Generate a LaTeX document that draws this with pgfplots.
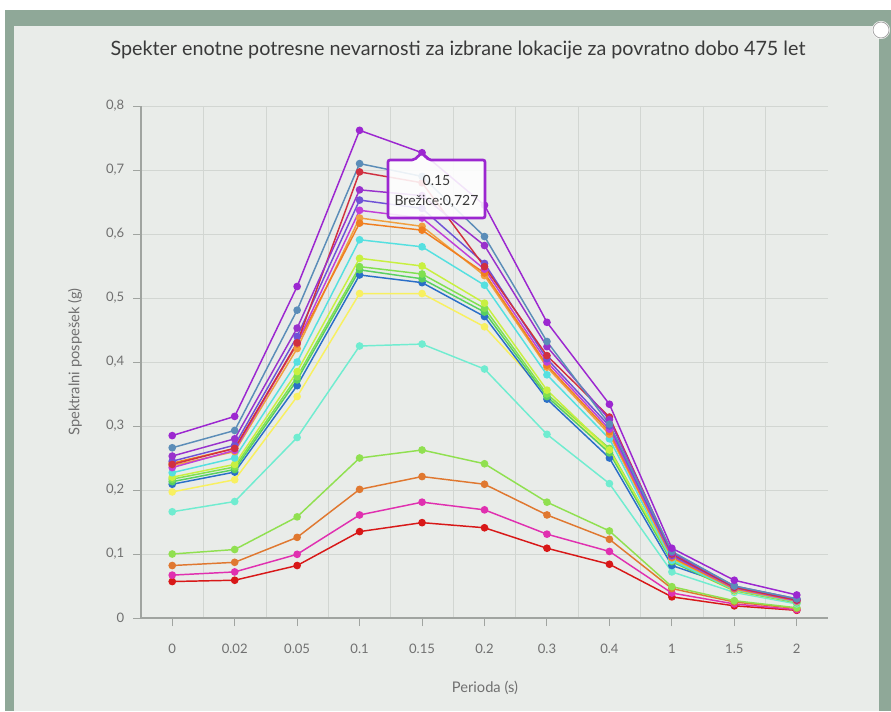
\documentclass[border=0pt]{standalone}
\usepackage{fontspec}
\setmainfont{Lato}
\usepackage{pgfplots}
\pgfplotsset{compat=1.18}
\definecolor{framegreen}{HTML}{8FA898}
\definecolor{panel}{HTML}{E9ECE9}
\definecolor{gridc}{HTML}{D2D6D2}
\definecolor{axisc}{HTML}{A0A4A0}
\definecolor{labc}{HTML}{707070}
\definecolor{titc}{HTML}{3A3A3A}
\definecolor{cbrez}{HTML}{9C27D0}
\definecolor{csteel}{HTML}{5B8DB8}
\definecolor{credup}{HTML}{D03040}
\definecolor{cpurp}{HTML}{9932CC}
\definecolor{cviol}{HTML}{6F52D6}
\definecolor{cmagp}{HTML}{C03FD8}
\definecolor{corng}{HTML}{F07F20}
\definecolor{corng2}{HTML}{F0A040}
\definecolor{ccyan}{HTML}{55E0E0}
\definecolor{cygreen}{HTML}{C8F040}
\definecolor{cgreen}{HTML}{80E050}
\definecolor{cgreen2}{HTML}{58D060}
\definecolor{cblue}{HTML}{2A6FC8}
\definecolor{cyellow}{HTML}{F8F060}
\definecolor{cturq}{HTML}{70ECD0}
\definecolor{clime}{HTML}{90E050}
\definecolor{corlow}{HTML}{E07830}
\definecolor{cmag}{HTML}{E030B0}
\definecolor{cred}{HTML}{D81818}
\begin{document}
\begin{tikzpicture}
\begin{scope}[x=0.75pt,y=0.75pt]
\fill[white] (0,0) rectangle (891,711);
\fill[framegreen] (5,0) rectangle (891,701);
\fill[panel] (14,0) rectangle (879,685);
\fill[white] (881,681) circle (9);
\draw[gray!70, line width=0.6pt] (881,681) circle (8);
\node[text=titc, font=\fontsize{14.8}{17}\selectfont] at (458,661) {Spekter enotne potresne nevarnosti za izbrane lokacije za povratno dobo 475 let};
\node[text=labc, rotate=90, font=\fontsize{11}{13}\selectfont] at (75,349) {Spektralni pospešek (g)};
\node[text=labc, font=\fontsize{11}{13}\selectfont] at (485,23) {Perioda (s)};
\end{scope}
\begin{axis}[
  at={(105.75pt,69.75pt)}, anchor=south west,
  width=515.25pt, height=384pt, scale only axis,
  xmin=-0.5, xmax=10.5, ymin=0, ymax=0.8,
  xtick={0,1,2,3,4,5,6,7,8,9,10},
  xticklabels={0,0.02,0.05,0.1,0.15,0.2,0.3,0.4,1,1.5,2},
  minor xtick={0.5,1.5,2.5,3.5,4.5,5.5,6.5,7.5,8.5,9.5},
  ytick={0,0.1,0.2,0.3,0.4,0.5,0.6,0.7,0.8},
  xmajorgrids=false, xminorgrids=true, ymajorgrids=true,
  grid style={color=gridc, line width=0.6pt},
  minor grid style={color=gridc, line width=0.6pt},
  axis x line*=bottom, axis y line*=left,
  axis line style={color=axisc, line width=0.8pt, -},
  tick align=outside, major tick length=6pt, minor tick length=0pt,
  tick style={color=axisc, line width=0.7pt},
  ticklabel style={font=\fontsize{9.8}{11}\selectfont, text=labc},
  xticklabel style={yshift=-10pt},
  /pgf/number format/assume math mode=true,
  yticklabel style={xshift=-3pt, /pgf/number format/.cd, use comma, fixed, precision=1},
  every axis plot/.append style={line width=1.1pt, mark=*, mark size=2.3pt},
]
\addplot[color=cred] coordinates {(0,0.057) (1,0.059) (2,0.082) (3,0.135) (4,0.149) (5,0.141) (6,0.109) (7,0.084) (8,0.033) (9,0.019) (10,0.012)};
\addplot[color=cmag] coordinates {(0,0.067) (1,0.072) (2,0.0995) (3,0.161) (4,0.181) (5,0.169) (6,0.131) (7,0.104) (8,0.039) (9,0.022) (10,0.013)};
\addplot[color=corlow] coordinates {(0,0.082) (1,0.087) (2,0.126) (3,0.201) (4,0.221) (5,0.209) (6,0.161) (7,0.123) (8,0.046) (9,0.025) (10,0.015)};
\addplot[color=clime] coordinates {(0,0.100) (1,0.107) (2,0.158) (3,0.250) (4,0.2625) (5,0.241) (6,0.181) (7,0.136) (8,0.049) (9,0.027) (10,0.016)};
\addplot[color=cturq] coordinates {(0,0.166) (1,0.182) (2,0.282) (3,0.425) (4,0.428) (5,0.389) (6,0.287) (7,0.210) (8,0.072) (9,0.040) (10,0.022)};
\addplot[color=cyellow] coordinates {(0,0.197) (1,0.216) (2,0.346) (3,0.507) (4,0.507) (5,0.455) (6,0.350) (7,0.260) (8,0.088) (9,0.042) (10,0.024)};
\addplot[color=cblue] coordinates {(0,0.209) (1,0.228) (2,0.363) (3,0.536) (4,0.524) (5,0.471) (6,0.342) (7,0.250) (8,0.082) (9,0.049) (10,0.028)};
\addplot[color=cgreen2] coordinates {(0,0.213) (1,0.232) (2,0.372) (3,0.544) (4,0.530) (5,0.478) (6,0.346) (7,0.258) (8,0.088) (9,0.043) (10,0.024)};
\addplot[color=cgreen] coordinates {(0,0.217) (1,0.236) (2,0.377) (3,0.549) (4,0.5375) (5,0.484) (6,0.350) (7,0.265) (8,0.090) (9,0.043) (10,0.025)};
\addplot[color=cygreen] coordinates {(0,0.220) (1,0.240) (2,0.385) (3,0.562) (4,0.550) (5,0.492) (6,0.356) (7,0.2625) (8,0.092) (9,0.044) (10,0.025)};
\addplot[color=ccyan] coordinates {(0,0.227) (1,0.250) (2,0.400) (3,0.591) (4,0.580) (5,0.520) (6,0.380) (7,0.280) (8,0.090) (9,0.044) (10,0.025)};
\addplot[color=corng2] coordinates {(0,0.238) (1,0.260) (2,0.421) (3,0.625) (4,0.612) (5,0.535) (6,0.392) (7,0.287) (8,0.094) (9,0.045) (10,0.026)};
\addplot[color=corng] coordinates {(0,0.242) (1,0.265) (2,0.428) (3,0.617) (4,0.606) (5,0.539) (6,0.395) (7,0.291) (8,0.095) (9,0.046) (10,0.027)};
\addplot[color=cmagp] coordinates {(0,0.235) (1,0.262) (2,0.430) (3,0.637) (4,0.625) (5,0.545) (6,0.400) (7,0.295) (8,0.097) (9,0.047) (10,0.027)};
\addplot[color=cviol] coordinates {(0,0.245) (1,0.270) (2,0.440) (3,0.653) (4,0.640) (5,0.554) (6,0.405) (7,0.300) (8,0.098) (9,0.048) (10,0.028)};
\addplot[color=credup] coordinates {(0,0.240) (1,0.265) (2,0.430) (3,0.697) (4,0.680) (5,0.549) (6,0.410) (7,0.314) (8,0.100) (9,0.048) (10,0.028)};
\addplot[color=cpurp] coordinates {(0,0.253) (1,0.280) (2,0.453) (3,0.669) (4,0.660) (5,0.582) (6,0.424) (7,0.310) (8,0.102) (9,0.050) (10,0.030)};
\addplot[color=csteel] coordinates {(0,0.266) (1,0.293) (2,0.481) (3,0.710) (4,0.690) (5,0.596) (6,0.432) (7,0.303) (8,0.104) (9,0.050) (10,0.030)};
\addplot[color=cbrez] coordinates {(0,0.285) (1,0.315) (2,0.518) (3,0.762) (4,0.727) (5,0.645) (6,0.462) (7,0.334) (8,0.109) (9,0.059) (10,0.036)};
\end{axis}
\begin{scope}[x=0.75pt,y=0.75pt]
\draw[color=cbrez, line width=2pt, fill=white, fill opacity=0.88, rounded corners=1.5pt]
  (388,551) -- (414,551) -- (421.7,558) -- (429,551) -- (485,551) -- (485,493) -- (388,493) -- cycle;
\node[text=titc, font=\fontsize{10.5}{12}\selectfont] at (436.5,531) {0.15};
\node[text=titc, font=\fontsize{10.5}{12}\selectfont] at (436.5,510) {Brežice:0,727};
\end{scope}
\end{tikzpicture}
\end{document}
